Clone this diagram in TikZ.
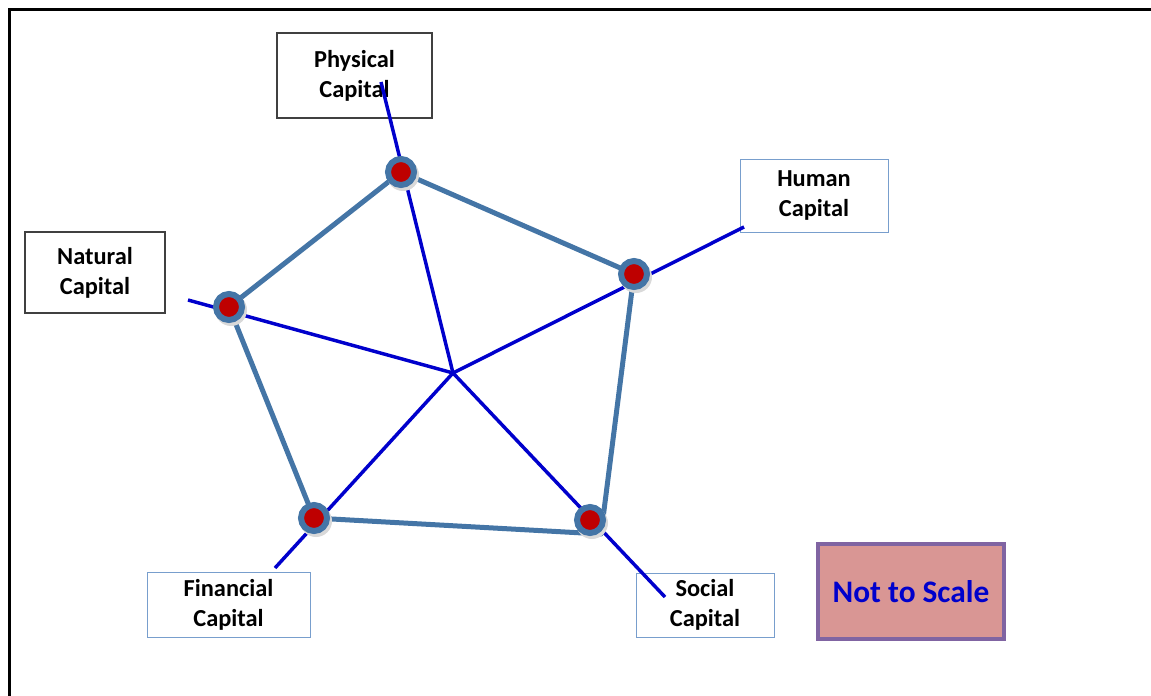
\documentclass[tikz,border=0pt]{standalone}
\usepackage{fontspec}
\setmainfont{Carlito}
\definecolor{steel}{RGB}{68,117,166}
\definecolor{spoke}{RGB}{0,0,204}
\definecolor{dotred}{RGB}{190,0,0}
\definecolor{thinbox}{RGB}{120,158,205}
\definecolor{darkbox}{RGB}{64,64,64}
\definecolor{notefill}{RGB}{217,150,148}
\definecolor{noteline}{RGB}{128,100,162}
\begin{document}
\begin{tikzpicture}[x=0.75pt,y=-0.75pt,
  lbl/.style={rectangle,inner sep=0pt,align=center,font=\fontsize{18.3}{22.5}\selectfont\bfseries,text=black},
  darklbl/.style={lbl,draw=darkbox,line width=1.5pt},
  thinlbl/.style={lbl,draw=thinbox,line width=0.75pt},
  spokeline/.style={draw=spoke,line width=2.6pt},
  edgeline/.style={draw=steel,line width=3.75pt,line join=round},
  capdot/.style={circle,fill=dotred,draw=steel,line width=4.5pt,minimum size=19.5pt,inner sep=0pt},
  dotshadow/.style={circle,fill=black!15,minimum size=24pt,inner sep=0pt}]
\useasboundingbox (0,0) rectangle (1151,695);
\clip (0,0) rectangle (1151,695);
\draw[black,line width=2.25pt] (9,10) rectangle (1300,900);

% label boxes
\node[darklbl,minimum width=116.25pt,minimum height=63.75pt] (phys) at (354.5,75.5) {Physical\\Capital};
\node[thinlbl,minimum width=111pt,minimum height=54pt] (hum) at (814,196) {Human\\Capital};
\node[darklbl,minimum width=105pt,minimum height=60.75pt] (nat) at (95,272.5) {Natural\\Capital};
\node[thinlbl,minimum width=122.25pt,minimum height=48.75pt] (fin) at (228.5,604.5) {Financial\\Capital};
\node[thinlbl,minimum width=103.5pt,minimum height=48pt] (soc) at (705,605) {Social\\Capital};
\node[rectangle,fill=notefill,draw=noteline,line width=3pt,minimum width=139.5pt,minimum height=71.25pt,
  font=\fontsize{23.5}{28}\selectfont\bfseries,text=spoke] (note) at (911,591.5) {Not to Scale};

% hub and spoke ends
\coordinate (hub) at (453,373);
\coordinate (ephys) at (381,82);
\coordinate (ehum) at (744,227);
\coordinate (enat) at (188,300);
\coordinate (efin) at (275,568);
\coordinate (esoc) at (665,597);
\coordinate (corner) at (601,534);

% dot positions
\coordinate (pphys) at (401,172);
\coordinate (phum) at (634,274);
\coordinate (psoc) at (590,520);
\coordinate (pfin) at (314,518);
\coordinate (pnat) at (229,307);

% spokes
\draw[spokeline] (hub) -- (ephys);
\draw[spokeline] (hub) -- (ehum);
\draw[spokeline] (hub) -- (enat);
\draw[spokeline] (hub) -- (efin);
\draw[spokeline] (hub) -- (esoc);

% pentagon
\draw[edgeline] (pphys) -- (phum) -- (corner) -- (pfin) -- (pnat) -- cycle;

% dots
\foreach \p in {pphys,phum,psoc,pfin,pnat}{
  \node[dotshadow] at ([shift={(2,3)}]\p) {};
}
\node[capdot] (dphys) at (pphys) {};
\node[capdot] (dhum) at (phum) {};
\node[capdot] (dsoc) at (psoc) {};
\node[capdot] (dfin) at (pfin) {};
\node[capdot] (dnat) at (pnat) {};
\end{tikzpicture}
\end{document}
